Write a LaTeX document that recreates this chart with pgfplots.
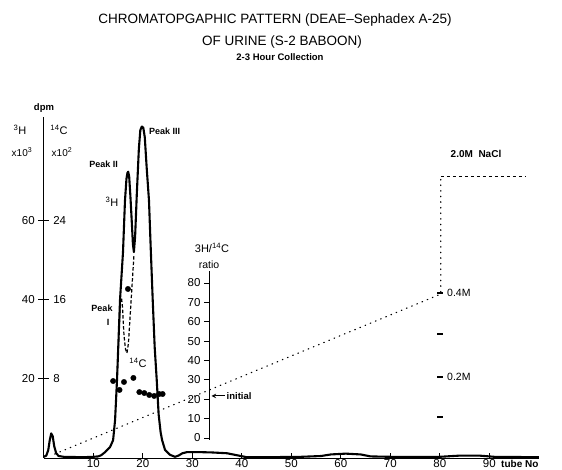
\documentclass[border=0pt]{standalone}
\usepackage{pgfplots}
\pgfplotsset{compat=1.18}
\usepackage{fontspec}
\setmainfont{Liberation Sans}
\begin{document}
\begin{tikzpicture}[x=1pt,y=1pt]
\useasboundingbox (0,0) rectangle (562,470);
% ---------------- main axis (3H dpm x10^3 vs tube No) ----------------
\begin{axis}[
  at={(43.8pt,12pt)}, anchor=south west,
  scale only axis, width=495pt, height=340.56pt,
  xmin=0, xmax=100, ymin=0, ymax=86,
  axis x line=bottom, axis y line=left,
  axis line style={-, line width=0.9pt, black},
  clip=false,
  xtick={10,20,...,90},
  ytick={20,40,60},
  xtick align=inside, ytick align=center,
  major tick length=11pt,
  xtick style={line width=0.9pt, black, /pgfplots/major tick length=5pt},
  ytick style={line width=0.9pt, black},
  tick label style={font=\fontsize{11.5}{12}\selectfont},
  xticklabel style={yshift=2.5pt},
  /pgf/number format/assume math mode=true,
]
% NaCl gradient (drawn in dpm units)
\addplot[black, line width=1.2pt, dash pattern=on 0.6pt off 5pt, line cap=round] coordinates {(2.2,1.0) (80.2,41.4) (80.2,71.2)};
\addplot[black, line width=1pt, dash pattern=on 3pt off 3pt] coordinates {(80.2,71.2) (97.5,71.2)};
% 3H (solid)
\addplot[black, line width=2.1pt, line join=round] coordinates {
(0,0.3) (0.5,0.6) (0.9,2) (1.2,4.5) (1.5,6.2) (1.8,5.5) (2.1,3) (2.5,1.2) (3,0.5) (4,0.3)
(8,0.2) (10,0.3) (11,0.4) (11.6,0.7) (12.4,1.5) (13.4,2.8) (14.0,4.5) (14.4,9.6) (14.8,20)
(15.1,30) (15.4,40) (16.0,52) (16.4,65) (16.7,70.5) (16.9,72) (17.05,72.3) (17.25,71)
(17.5,66) (17.8,59) (18.0,54) (18.2,52) (18.45,56) (18.8,67) (19.2,78) (19.5,82.8)
(19.8,83.7) (20.1,83.4) (20.4,81) (20.8,73) (21.25,65) (21.6,53) (22.0,40) (22.4,28)
(22.8,20) (23.2,11) (23.6,6.5) (23.9,4.5) (24.5,2) (25.5,0.8) (26.5,0.3) (27.2,0.6)
(28.0,1.2) (29,1.5) (31,1.5) (34,1.4) (37,1.2) (39,0.7) (41,0.2) (45,0.2) (52,0.3)
(56,0.5) (58,0.9) (61,1.1) (64,0.9) (66,0.4) (70,0.3) (76,0.3) (80,0.3) (84,0.6)
(88,0.6) (91,0.3) (100,0.2)};
% 14C (dashed)
\addplot[black, line width=1.2pt, dash pattern=on 3.5pt off 2pt] coordinates {
(14.8,20) (15.2,32) (15.5,40) (15.7,40.5) (15.9,38) (16.2,31) (16.5,27.5) (16.8,26.5)
(17.1,29) (17.5,37) (17.9,45) (18.2,51)};
\node[anchor=west, font=\fontsize{11.5}{12}\selectfont] at (axis cs:0,20) [xshift=6pt] {8};
\node[anchor=west, font=\fontsize{11.5}{12}\selectfont] at (axis cs:0,40) [xshift=6pt] {16};
\node[anchor=west, font=\fontsize{11.5}{12}\selectfont] at (axis cs:0,60) [xshift=6pt] {24};
\end{axis}
% ---------------- ratio axis ----------------
\begin{axis}[
  at={(209pt,30.06pt)}, anchor=south west,
  scale only axis, width=40pt, height=168.6pt,
  xmin=33.374, xmax=41.455, ymin=-1, ymax=86,
  axis y line=left, axis x line=none,
  axis line style={-, line width=0.9pt, black},
  clip=false,
  ytick={0,10,...,80},
  ytick align=outside, major tick length=5pt,
  ytick style={line width=0.9pt, black},
  tick label style={font=\fontsize{11.5}{12}\selectfont},
  /pgf/number format/assume math mode=true,
]
\addplot[only marks, mark=*, mark size=2.7pt, black] coordinates {
(14.0,29.4) (15.3,24.8) (16.2,28.9) (17.0,76.9) (18.1,31.0) (19.3,23.7) (20.3,23.2)
(21.3,22.2) (22.3,21.7) (23.3,22.7) (24.0,22.7)};
\draw[-stealth, line width=1pt] (axis cs:36.6,21.7) -- (axis cs:33.9,21.7);
\node[anchor=west, font=\bfseries\fontsize{9.5}{10}\selectfont, inner sep=1pt] at (axis cs:36.7,21.7) {initial};
\end{axis}
% ---------------- texts ----------------
\node[font=\fontsize{13.5}{14}\selectfont] at (275,450) {CHROMATOPGAPHIC PATTERN (DEAE--Sephadex A-25)};
\node[font=\fontsize{13.5}{14}\selectfont] at (282,428) {OF URINE (S-2 BABOON)};
\node[font=\bfseries\fontsize{9.5}{10}\selectfont] at (280,413) {2-3 Hour Collection};
\node[font=\bfseries\fontsize{9.5}{10}\selectfont] at (44,362) {dpm};
\node[font=\fontsize{11}{12}\selectfont] at (20,340) {\textsuperscript{3}H};
\node[font=\fontsize{11}{12}\selectfont] at (59,340) {\textsuperscript{14}C};
\node[font=\fontsize{10}{12}\selectfont] at (22,318) {x10\textsuperscript{3}};
\node[font=\fontsize{10}{12}\selectfont] at (62,318) {x10\textsuperscript{2}};
\node[font=\bfseries\fontsize{9}{10}\selectfont, anchor=east, inner sep=0pt] at (118,306) {Peak II};
\node[font=\bfseries\fontsize{9}{10}\selectfont, anchor=west, inner sep=0pt] at (149,339) {Peak III};
\node[font=\fontsize{11}{12}\selectfont] at (112,268) {\textsuperscript{3}H};
\node[font=\bfseries\fontsize{9}{10}\selectfont] at (102,162) {Peak};
\node[font=\bfseries\fontsize{9}{10}\selectfont] at (108,148) {I};
\node[font=\fontsize{11}{12}\selectfont] at (138,107) {\textsuperscript{14}C};
\node[font=\fontsize{11}{12}\selectfont] at (212,222) {3H/\textsuperscript{14}C};
\node[font=\fontsize{10.5}{12}\selectfont] at (209,205) {ratio};
\node[font=\bfseries\fontsize{10}{12}\selectfont] at (476,316) {2.0M\ \ NaCl};
\node[font=\fontsize{10.5}{12}\selectfont, anchor=west, inner sep=1pt] at (446,177) {0.4M};
\node[font=\fontsize{10.5}{12}\selectfont, anchor=west, inner sep=1pt] at (446,93) {0.2M};
\node[font=\bfseries\fontsize{10}{12}\selectfont, anchor=west, inner sep=1pt] at (500,6.5) {tube\ No};
\foreach \yy in {53,93,136,177} {\draw[line width=1.1pt] (437,\yy) -- (443,\yy);}
\end{tikzpicture}
\end{document}
